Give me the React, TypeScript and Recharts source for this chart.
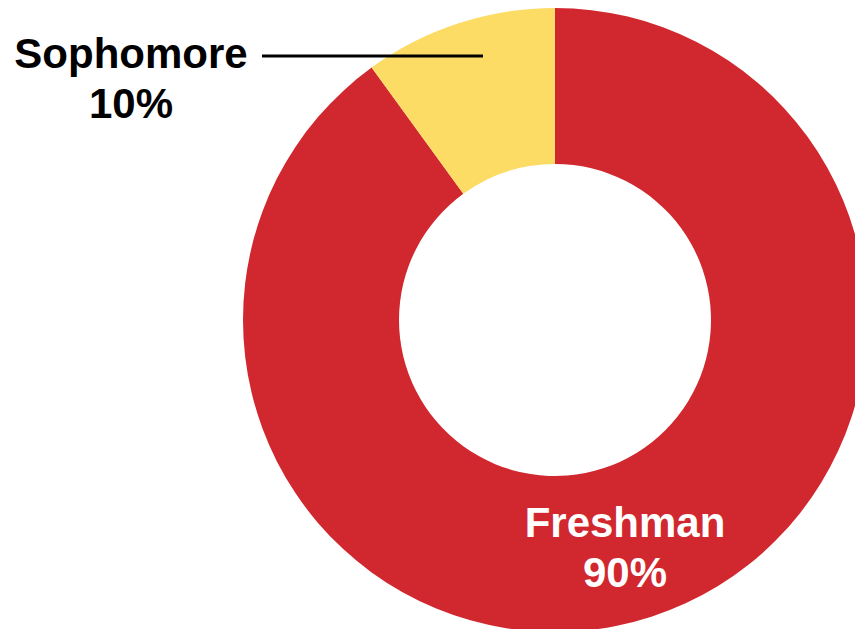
import { Cell, Pie, PieChart } from "recharts";

const CLASSES = ["Freshman", "Sophomore"];
const SHARES = [90, 10];
const COLORS = ["#d1282f", "#fcdc64"];

const data = CLASSES.map((name, i) => ({ name, value: SHARES[i] }));

const FONT = "'Liberation Sans', Arial, sans-serif";

function renderLabel(props: any) {
  const { cx, cy, index, name, value } = props;
  if (index === 0) {
    return (
      <text
        x={cx + 70}
        y={cy + 217}
        textAnchor="middle"
        fill="#ffffff"
        fontFamily={FONT}
        fontWeight="bold"
        fontSize={42}
      >
        <tspan x={cx + 70}>{name}</tspan>
        <tspan x={cx + 70} dy={50}>{`${value}%`}</tspan>
      </text>
    );
  }
  return (
    <g>
      <line x1={cx - 293} y1={cy - 264} x2={cx - 72} y2={cy - 264} stroke="#000" strokeWidth={3} />
      <text
        x={cx - 424}
        y={cy - 252}
        textAnchor="middle"
        fill="#000000"
        fontFamily={FONT}
        fontWeight="bold"
        fontSize={42}
      >
        <tspan x={cx - 424}>{name}</tspan>
        <tspan x={cx - 424} dy={50}>{`${value}%`}</tspan>
      </text>
    </g>
  );
}

export default function App() {
  return (
    <div style={{ position: "fixed", left: 0, top: 0, width: 855, height: 629, background: "#fff" }}>
      <PieChart width={855} height={629} margin={{ top: 0, right: 0, bottom: 0, left: 0 }}>
        <Pie
          data={data}
          dataKey="value"
          nameKey="name"
          cx={555}
          cy={320}
          innerRadius={156}
          outerRadius={312}
          startAngle={90}
          endAngle={-270}
          stroke="none"
          label={renderLabel}
          labelLine={false}
          isAnimationActive={false}
        >
          {data.map((_, i) => (
            <Cell key={`cell-${i}`} fill={COLORS[i]} />
          ))}
        </Pie>
      </PieChart>
    </div>
  );
}
